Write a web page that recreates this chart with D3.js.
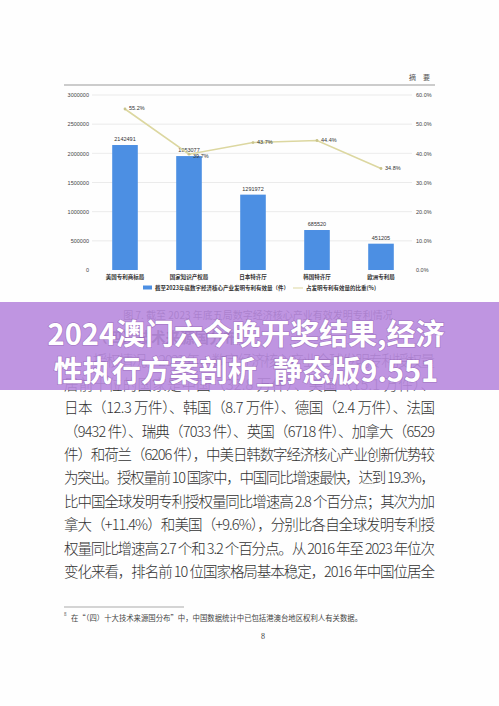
<!DOCTYPE html>
<html>
<head>
<meta charset="utf-8">
<script src="https://cdn.jsdelivr.net/npm/d3@7"></script>
<style>
  html, body { margin: 0; padding: 0; background: #fff; }
  svg { display: block; }
</style>
</head>
<body>
<div id="page"></div>
<script>
const W = 499, H = 706;

// chart data
const offices = ["美国专利商标局", "国家知识产权局", "日本特许厅", "韩国特许厅", "欧洲专利局"];
const patents = [2142491, 1953077, 1291972, 685520, 451205];
const shares = [0.552, 0.397, 0.437, 0.444, 0.348];
const leftTicks = [0, 500000, 1000000, 1500000, 2000000, 2500000, 3000000];
const rightTicks = [0, 0.1, 0.2, 0.3, 0.4, 0.5, 0.6];
const legendBar = "截至2023年底数字经济核心产业发明专利有效量（件）";
const legendLine = "占发明专利有效量的比重(%)";
const caption = "图 7. 截至 2023 年底五局数字经济核心产业有效发明专利情况";

// page text
const bodyLines = [
  "（四）技术来源国分布",
  "授权情况。2023 年，数字经济核心产业全球发明专利授权量",
  "居前十位的国家是中国（32.8 万件）、美国（15.1 万件）、",
  "日本（12.3 万件）、韩国（8.7 万件）、德国（2.4 万件）、法国",
  "（9432 件）、瑞典（7033 件）、英国（6718 件）、加拿大（6529",
  "件）和荷兰（6206 件），中美日韩数字经济核心产业创新优势较",
  "为突出。授权量前 10 国家中，中国同比增速最快，达到 19.3%，",
  "比中国全球发明专利授权量同比增速高 2.8 个百分点；其次为加",
  "拿大（+11.4%）和美国（+9.6%），分别比各自全球发明专利授",
  "权量同比增速高 2.7 个和 3.2 个百分点。从 2016 年至 2023 年位次",
  "变化来看，排名前 10 位国家格局基本稳定，2016 年中国位居全"
];
const footnote = "在\u201C（四）十大技术来源国分布\u201D中，中国数据统计中已包括港澳台地区权利人有关数据。";
const bannerLines = ["2024澳门六今晚开奖结果,经济", "性执行方案剖析_静态版9.551"];

const serif = "'Noto Sans CJK SC', 'DejaVu Serif', serif";
const sans = "'Liberation Sans', 'Noto Sans CJK SC', sans-serif";

const svg = d3.select("#page").append("svg")
  .attr("width", W)
  .attr("height", H);

svg.append("rect").attr("width", W).attr("height", H).attr("fill", "#fefefe");

// header
svg.append("line")
  .attr("x1", 64).attr("x2", 435).attr("y1", 85).attr("y2", 85)
  .attr("stroke", "#9a9a9a").attr("stroke-width", 1.2);
svg.append("text")
  .attr("x", 430).attr("y", 80)
  .attr("text-anchor", "end")
  .style("font-family", serif).style("font-size", "7px")
  .attr("fill", "#555")
  .text("摘　要");

// scales
const x = d3.scaleBand().domain(offices).range([93, 413]).paddingInner(0.6).paddingOuter(0.3);
const yL = d3.scaleLinear().domain([0, 3000000]).range([270, 95]);
const yR = d3.scaleLinear().domain([0, 0.6]).range([270, 95]);

const chart = svg.append("g");

// grid
chart.selectAll(".grid")
  .data(leftTicks.slice(1))
  .enter().append("line")
  .attr("x1", 92).attr("x2", 412)
  .attr("y1", d => yL(d)).attr("y2", d => yL(d))
  .attr("stroke", "#e6e6e6").attr("stroke-width", 0.8);

// left axis
const axL = chart.append("g")
  .attr("transform", "translate(89,0)")
  .call(d3.axisLeft(yL).tickValues(leftTicks).tickSize(0).tickPadding(0).tickFormat(d3.format("d")));
axL.select(".domain").remove();
axL.selectAll("text").style("font-family", sans).style("font-size", "5.5px").attr("fill", "#444");

// right axis
const axR = chart.append("g")
  .attr("transform", "translate(416,0)")
  .call(d3.axisRight(yR).tickValues(rightTicks).tickSize(0).tickPadding(0).tickFormat(d3.format(".1%")));
axR.select(".domain").remove();
axR.selectAll("text").style("font-family", sans).style("font-size", "5.5px").attr("fill", "#444");

// bars
chart.selectAll(".bar")
  .data(offices)
  .enter().append("rect")
  .attr("x", d => x(d))
  .attr("y", (d, i) => yL(patents[i]))
  .attr("width", x.bandwidth())
  .attr("height", (d, i) => 270 - yL(patents[i]))
  .attr("fill", "#4c8fe3");

chart.selectAll(".bar-label")
  .data(offices)
  .enter().append("text")
  .attr("x", d => x(d) + x.bandwidth() / 2)
  .attr("y", (d, i) => yL(patents[i]) - 4)
  .attr("text-anchor", "middle")
  .style("font-family", sans).style("font-size", "5.5px")
  .attr("fill", "#333")
  .text((d, i) => patents[i]);

// x labels
chart.selectAll(".x-label")
  .data(offices)
  .enter().append("text")
  .attr("x", d => x(d) + x.bandwidth() / 2)
  .attr("y", 279)
  .attr("text-anchor", "middle")
  .style("font-family", serif).style("font-size", "5.5px").style("font-weight", "bold")
  .attr("fill", "#333")
  .text(d => d);

// share line
const pts = offices.map((d, i) => [x(d) + x.bandwidth() / 2, yR(shares[i])]);
chart.append("path")
  .attr("d", d3.line()(pts))
  .attr("fill", "none")
  .attr("stroke", "#dcd7a0")
  .attr("stroke-width", 1.6);
chart.selectAll(".pt")
  .data(pts)
  .enter().append("circle")
  .attr("cx", d => d[0]).attr("cy", d => d[1])
  .attr("r", 1.4)
  .attr("fill", "#c9c48c");
chart.selectAll(".pt-label")
  .data(pts)
  .enter().append("text")
  .attr("x", d => d[0] + 4)
  .attr("y", (d, i) => d[1] + (i === 1 ? 4 : 1))
  .style("font-family", sans).style("font-size", "5.5px")
  .attr("fill", "#333")
  .text((d, i) => d3.format(".1%")(shares[i]));

// legend
const lg = chart.append("g").attr("transform", "translate(143,288)");
lg.append("rect").attr("x", 0).attr("y", -2.5).attr("width", 9).attr("height", 4).attr("fill", "#4c8fe3");
lg.append("text")
  .attr("x", 12).attr("y", 2)
  .style("font-family", serif).style("font-size", "5.5px").style("font-weight", "bold")
  .attr("fill", "#333")
  .text(legendBar);
lg.append("line").attr("x1", 150).attr("x2", 160).attr("y1", 0).attr("y2", 0)
  .attr("stroke", "#dcd7a0").attr("stroke-width", 1);
lg.append("text")
  .attr("x", 163).attr("y", 2)
  .style("font-family", serif).style("font-size", "5.5px").style("font-weight", "bold")
  .attr("fill", "#333")
  .text(legendLine);

// caption
svg.append("text")
  .attr("x", 258).attr("y", 319)
  .attr("text-anchor", "middle")
  .style("font-family", serif).style("font-size", "10px")
  .attr("fill", "#333")
  .text(caption);

// body text
bodyLines.forEach((t, i) => {
  const x0 = (i < 2) ? 93 : 64;
  const tx = svg.append("text")
    .attr("x", x0)
    .attr("y", 343 + i * 23.4)
    .style("font-family", serif).style("font-size", "14.5px")
    .style("font-weight", i === 0 ? "bold" : "300")
    .attr("fill", "#333")
    .text(t);
  if (i > 0) tx.attr("textLength", 435 - x0).attr("lengthAdjust", "spacing");
});

// footnote
svg.append("line")
  .attr("x1", 64).attr("x2", 184).attr("y1", 607).attr("y2", 607)
  .attr("stroke", "#888").attr("stroke-width", 0.7);
svg.append("text")
  .attr("x", 64).attr("y", 616)
  .style("font-family", serif).style("font-size", "4.5px")
  .attr("fill", "#444")
  .text("8");
svg.append("text")
  .attr("x", 71).attr("y", 621)
  .style("font-family", serif).style("font-size", "7.5px")
  .attr("fill", "#444")
  .attr("textLength", 291).attr("lengthAdjust", "spacingAndGlyphs")
  .text(footnote);
svg.append("text")
  .attr("x", 263).attr("y", 639)
  .attr("text-anchor", "middle")
  .style("font-family", "'Liberation Serif', serif").style("font-size", "8px")
  .attr("fill", "#444")
  .text("8");

// banner overlay
svg.append("rect")
  .attr("x", 0).attr("y", 302).attr("width", W).attr("height", 88)
  .attr("fill", "#b889de").attr("opacity", 0.9);
bannerLines.forEach((t, i) => {
  svg.append("text")
    .attr("x", 246)
    .attr("y", 345 + i * 37)
    .attr("text-anchor", "middle")
    .style("font-family", "'Noto Sans CJK SC', sans-serif")
    .style("font-size", "29px").style("font-weight", "bold")
    .attr("fill", "#fff")
    .style("paint-order", "stroke")
    .attr("stroke", "rgba(90,40,120,0.25)").attr("stroke-width", 1.5)
    .text(t);
});
</script>
</body>
</html>
